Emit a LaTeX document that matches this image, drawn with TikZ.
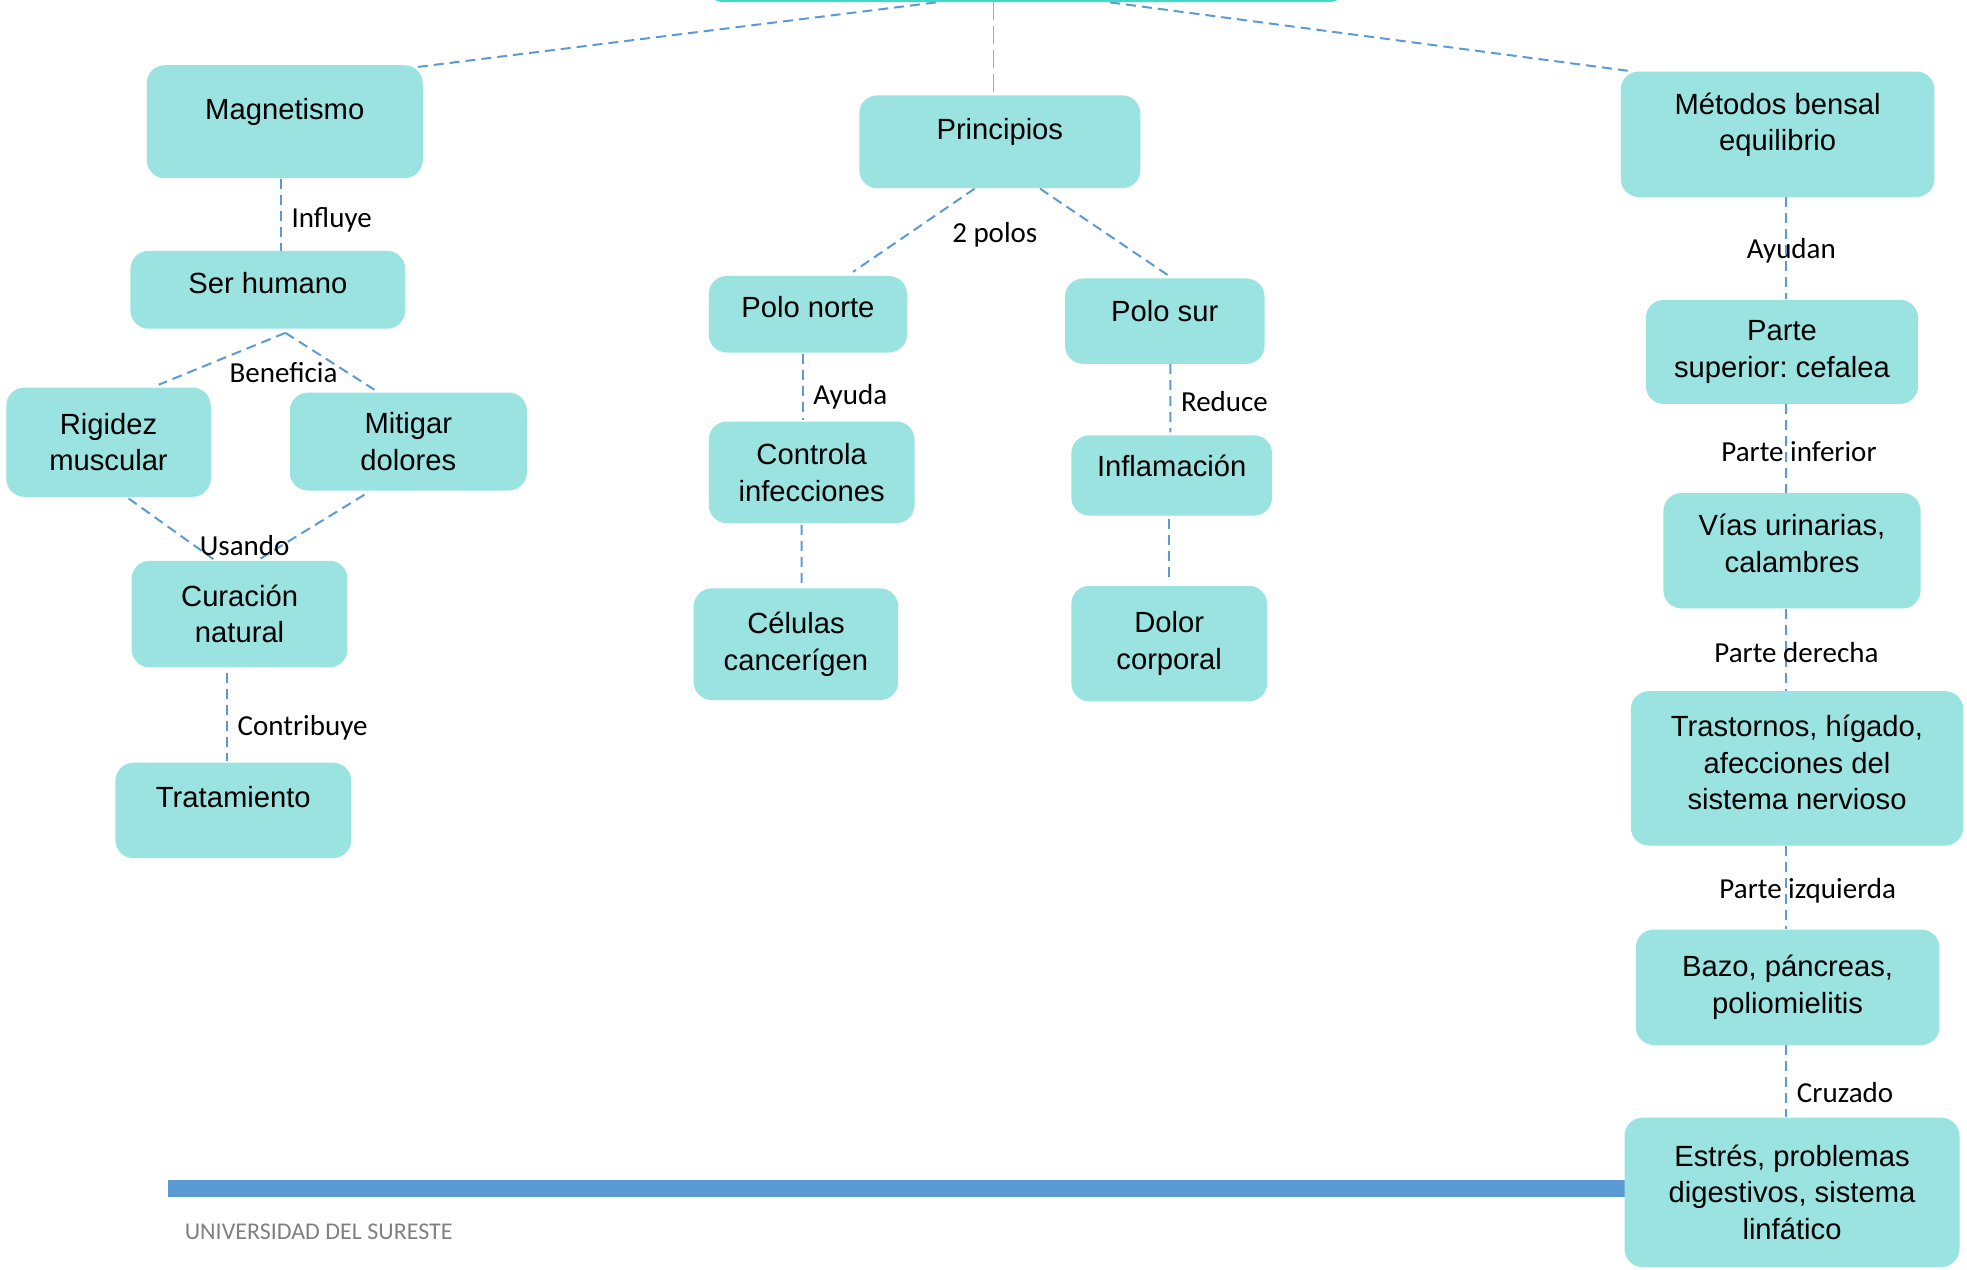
\documentclass[tikz,border=0pt]{standalone}
\usepackage{fontspec}
\setmainfont{Liberation Sans}
\newfontfamily\lblfont{Carlito}
\usetikzlibrary{positioning, calc, backgrounds}

\definecolor{boxfill}{HTML}{9AE3E1}
\definecolor{rootfill}{HTML}{40D9C6}
\definecolor{linkblue}{HTML}{5B9BD5}
\definecolor{footgray}{HTML}{808080}
\newcommand{\pxu}{0.62725pt}
\frenchspacing

\begin{document}
\begin{tikzpicture}[
    x=0.62725pt, y=-0.62725pt,
    idea/.style={rectangle, rounded corners=9pt, fill=boxfill, align=center, inner sep=2pt,
        font=\fontsize{14.6}{18.3}\selectfont},
    boxsize/.style 2 args={minimum width=#1*\pxu, minimum height=#2*\pxu},
    lift/.style={text height=11pt, text depth=#1},
    link/.style={draw=linkblue, dash pattern=on 5pt off 3pt, line width=1pt},
    rootlink/.style={draw=linkblue!75, dash pattern=on 9pt off 3pt, line width=0.6pt},
    linktext/.style={font=\lblfont\fontsize{14.5}{17}\selectfont, inner sep=4.8pt, yshift=-1.4pt}
]
\useasboundingbox (0,0) rectangle (1568,1012);

% Root (cut off at the top)
\node[idea, fill=rootfill, boxsize={512}{80}] (root) at (818,-38.4) {};

% Left branch
\node[idea, boxsize={220}{90}, lift=13.5pt] (magnet) at (227,97) {Magnetismo};
\node[idea, boxsize={219}{62}, lift=7.2pt] (human) at (213.5,231) {Ser humano};
\node[idea, boxsize={163}{87}] (rigid) at (86.5,352.5) {Rigidez\\muscular};
\node[idea, boxsize={189}{78}] (pain) at (325.5,352) {Mitigar\\dolores};
\node[idea, boxsize={172}{85}] (cure) at (191,489.5) {Curación\\natural};
\node[idea, boxsize={188}{76}, lift=13.5pt] (treat) at (186,646) {Tratamiento};

% Middle branch
\node[idea, boxsize={224}{74}, lift=13.5pt] (princ) at (797,113) {Principios};
\node[idea, boxsize={158}{61}, lift=7.8pt] (pnorte) at (644,250.5) {Polo norte};
\node[idea, boxsize={159}{68}, lift=11pt] (psur) at (928.5,256) {Polo sur};
\node[idea, boxsize={164}{81}] (infect) at (647,376.5) {Controla\\infecciones};
\node[idea, boxsize={160}{64}, lift=9.7pt] (inflam) at (934,379) {Inflamación};
\node[idea, boxsize={163}{89}] (cells) at (634.5,513.5) {Células\\cancerígen};
\node[idea, boxsize={156}{92}] (ache) at (932,513) {Dolor\\corporal};

% Right branch
\node[idea, boxsize={250}{100}, text depth=12.3pt] (bensal) at (1417,107) {Métodos bensal\\equilibrio};
\node[idea, boxsize={217}{83}] (upper) at (1420.5,280.5) {Parte\\superior: cefalea};
\node[idea, boxsize={205}{92}, text depth=7.3pt] (lower) at (1428.5,439) {Vías urinarias,\\calambres};
\node[idea, boxsize={265}{123}, text depth=6pt] (rightp) at (1432.5,612.5) {Trastornos, hígado,\\afecciones del\\sistema nervioso};
\node[idea, boxsize={242}{92}] (leftp) at (1425,787) {Bazo, páncreas,\\poliomielitis};
\node[idea, boxsize={267}{119}] (cross) at (1428.5,950.5) {Estrés, problemas\\digestivos, sistema\\linfático};
\coordinate (spine) at (1424,0);

% Free labels
\node[linktext] (benef) at (226,295) {Beneficia};
\node[linktext] (using) at (195,433) {Usando};
\node[linktext] (poles) at (793,185) {2 polos};

% Footer
\node[anchor=west, font=\lblfont\fontsize{12}{14}\selectfont, text=footgray, inner sep=0pt] (uni) at (147,982) {UNIVERSIDAD DEL SURESTE};

\begin{scope}[on background layer]
\fill[linkblue] (134,941) rectangle (1296,954);

% Edges
\draw[link] ($(root.south)+(-72,0)$) -- ($(magnet.north east)+(-7,2)$);
\draw[rootlink] ($(root.south)+(-26,0)$) -- ($(princ.north)+(-5,0)$);
\draw[link] ($(root.south)+(67,0)$) -- ($(bensal.north west)+(8,0)$);

\draw[link] ($(magnet.south)+(-3,0)$) -- ($(magnet.south |- human.north)+(-3,0)$) node[midway, right, linktext, yshift=-1.2pt] {Influye};
\draw[link] ($(human.south)+(14,3)$) -- ($(rigid.north)+(40,-2)$);
\draw[link] ($(human.south)+(14,3)$) -- ($(pain.north)+(-27,-2)$);
\draw[link] ($(rigid.south)+(16,1)$) -- ($(cure.north)+(-21,-1)$);
\draw[link] ($(pain.south)+(-35,3)$) -- ($(cure.north)+(16,-1)$);
\draw[link] ($(cure.south)+(-10,4)$) -- ($(treat.north)+(-5,-1)$) node[midway, right, linktext, yshift=-4pt] {Contribuye};

\draw[link] ($(princ.south)+(-20,0)$) -- ($(pnorte.north)+(36,-3)$);
\draw[link] ($(princ.south)+(32,0)$) -- ($(psur.north)+(4.5,-1)$);
\draw[link] ($(pnorte.south)+(-4,1)$) -- ($(infect.north)+(-7,-1)$) node[midway, right, linktext, yshift=-3.4pt] {Ayuda};
\draw[link] ($(infect.south)+(-8,1)$) -- ($(cells.north)+(4.5,-2)$);
\draw[link] ($(psur.south)+(4.5,0)$) -- ($(inflam.north)+(-1,-2)$) node[midway, right, linktext] {Reduce};
\draw[link] ($(inflam.south)+(-2,2)$) -- ($(ache.north)+(0,-4)$);

\draw[link] (bensal.south -| spine) -- (upper.north -| spine) node[midway, linktext, xshift=2.5pt] {Ayudan};
\draw[link] (upper.south -| spine) -- (lower.north -| spine) node[midway, linktext, xshift=6.3pt] {Parte inferior};
\draw[link] (lower.south -| spine) -- (rightp.north -| spine) node[midway, linktext, xshift=5pt] {Parte derecha};
\draw[link] (rightp.south -| spine) -- (leftp.north -| spine) node[midway, linktext, xshift=10.7pt] {Parte izquierda};
\draw[link] (leftp.south -| spine) -- (cross.north -| spine) node[midway, right, linktext, yshift=-4.4pt] {Cruzado};
\end{scope}
\end{tikzpicture}
\end{document}
